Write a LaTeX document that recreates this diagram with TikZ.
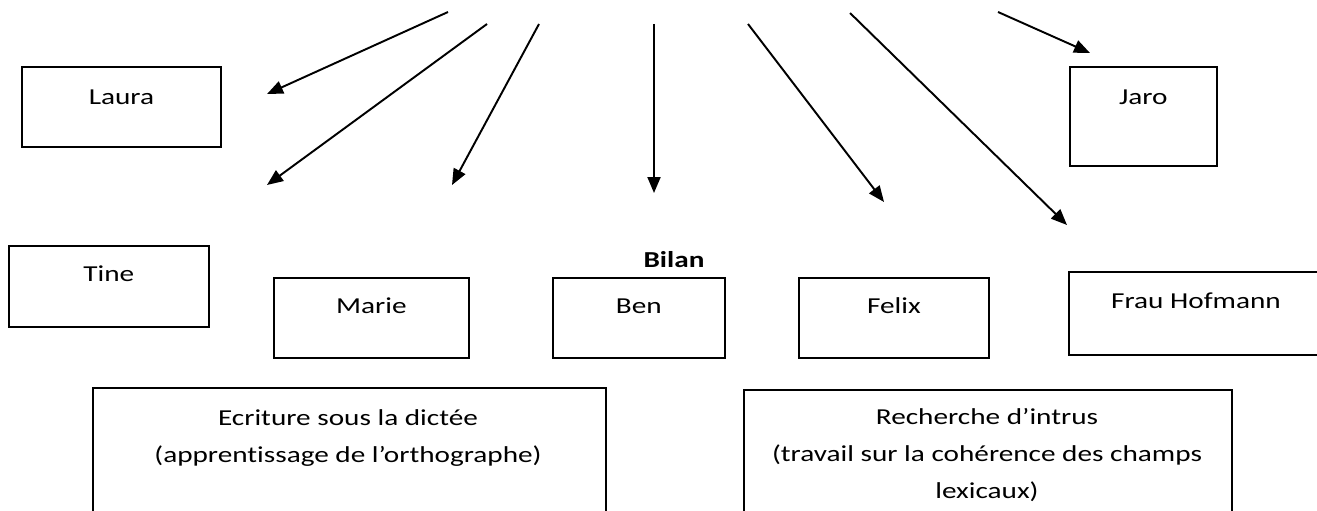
\documentclass[tikz,border=0pt]{standalone}
\usepackage{fontspec}
\setmainfont{Carlito}[FakeStretch=1.28, Ligatures=NoCommon]
\usetikzlibrary{arrows.meta}
\tikzset{
  boite/.style={draw, line width=1pt, anchor=north west, inner sep=0pt},
  texte/.style={anchor=base, align=center, inner sep=0pt, font=\fontsize{13}{21}\selectfont},
  fleche/.style={line width=1.1pt, -{Triangle[length=0.32cm, width=0.26cm]}}
}
\begin{document}
\begin{tikzpicture}[x=0.02cm, y=-0.02cm]
  \useasboundingbox (0, 0) rectangle (1317, 510);
  % eleves
  \node[boite, minimum width=199*0.02cm, minimum height=80*0.02cm,
    label={[texte, yshift=-0.78cm]north:Laura}] (laura) at (21, 66) {};
  \node[boite, minimum width=147*0.02cm, minimum height=99*0.02cm,
    label={[texte, yshift=-0.78cm]north:Jaro}] (jaro) at (1069, 66) {};
  \node[boite, minimum width=200*0.02cm, minimum height=81*0.02cm,
    label={[texte, yshift=-0.74cm]north:Tine}] (tine) at (8, 245) {};
  \node[boite, minimum width=195*0.02cm, minimum height=80*0.02cm,
    label={[texte, yshift=-0.74cm]north:Marie}] (marie) at (273, 277) {};
  \node[boite, minimum width=172*0.02cm, minimum height=80*0.02cm,
    label={[texte, yshift=-0.74cm]north:Ben}] (ben) at (552, 277) {};
  \node[boite, minimum width=190*0.02cm, minimum height=80*0.02cm,
    label={[texte, yshift=-0.74cm]north:Felix}] (felix) at (798, 277) {};
  \node[boite, minimum width=260*0.02cm, minimum height=83*0.02cm] (hofmann) at (1068, 271) {};
  \node[texte] (hofmann-t) at (1196, 308) {Frau Hofmann};
  \node[texte, font=\fontsize{13}{21}\selectfont\bfseries] (bilan) at (674, 267) {Bilan};
  % activites
  \node[boite, minimum width=513*0.02cm, minimum height=140*0.02cm] (ecriture) at (92, 387) {};
  \node[texte] (ecriture-t) at (348, 462) {Ecriture sous la dictée\\(apprentissage de l’orthographe)};
  \node[boite, minimum width=488*0.02cm, minimum height=140*0.02cm] (recherche) at (743, 389) {};
  \node[texte] (recherche-t) at (987, 498) {Recherche d’intrus\\(travail sur la cohérence des champs\\lexicaux)};
  % fleches
  \draw[fleche] (448, 12) coordinate (d1) -- (267, 94) coordinate (f1);
  \draw[fleche] (487, 24) coordinate (d2) -- (267, 185) coordinate (f2);
  \draw[fleche] (539, 24) coordinate (d3) -- (452, 185) coordinate (f3);
  \draw[fleche] (654, 24) coordinate (d4) -- (654, 193) coordinate (f4);
  \draw[fleche] (748, 24) coordinate (d5) -- (884, 202) coordinate (f5);
  \draw[fleche] (850, 13) coordinate (d6) -- (1067, 225) coordinate (f6);
  \draw[fleche] (998, 12) coordinate (d7) -- (1090, 53) coordinate (f7);
\end{tikzpicture}
\end{document}
